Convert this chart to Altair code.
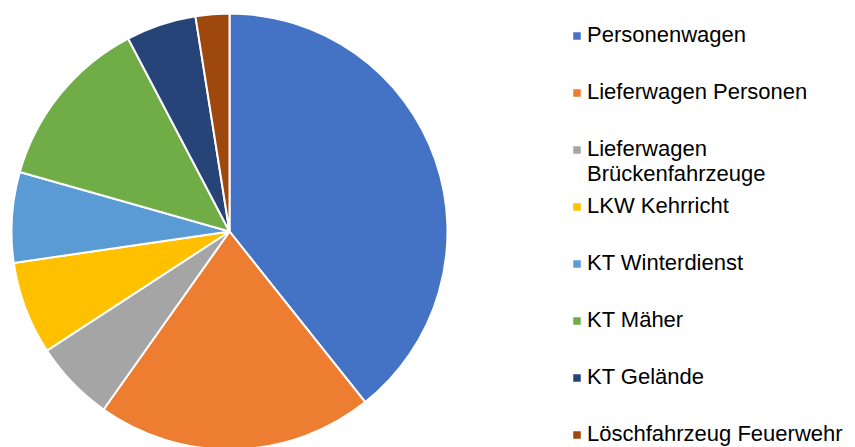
import altair as alt
import pandas as pd

categories = [
    "Personenwagen",
    "Lieferwagen Personen",
    "Lieferwagen Brückenfahrzeuge",
    "LKW Kehrricht",
    "KT Winterdienst",
    "KT Mäher",
    "KT Gelände",
    "Löschfahrzeug Feuerwehr",
]
shares = [39.3, 20.5, 6.0, 6.9, 6.7, 12.9, 5.2, 2.5]
legend_text = [
    "Personenwagen",
    "Lieferwagen Personen",
    "Lieferwagen\nBrückenfahrzeuge",
    "LKW Kehrricht",
    "KT Winterdienst",
    "KT Mäher",
    "KT Gelände",
    "Löschfahrzeug Feuerwehr",
]
colors = ["#4472C4", "#ED7D31", "#A5A5A5", "#FFC000", "#5B9BD5", "#70AD47", "#264478", "#9E480E"]

df = pd.DataFrame({
    "cat": categories,
    "share": shares,
    "label": legend_text,
    "idx": list(range(len(categories))),
})

color = alt.Color("cat:N", scale=alt.Scale(domain=categories, range=colors), legend=None)
base = alt.Chart(df)

pie = base.mark_arc(outerRadius=218, stroke="white", strokeWidth=2).encode(
    theta=alt.Theta("share:Q", stack=True),
    order=alt.Order("idx:Q"),
    color=color,
    x=alt.value(221.5),
    y=alt.value(223.5),
)

ypos = alt.Y("cat:N", sort=categories, scale=alt.Scale(range=[28, 427], padding=0), axis=None)

squares = base.mark_square(size=56, opacity=1).encode(
    y=ypos,
    x=alt.value(569),
    color=color,
)

texts = base.mark_text(
    align="left", baseline="top", dy=-11, lineBreak="\n", lineHeight=25,
    font="Liberation Sans", fontSize=22, color="#000000",
).encode(
    y=ypos,
    x=alt.value(579),
    text=alt.Text("label:N"),
)

chart = alt.layer(pie, squares, texts).properties(
    width=839, height=439,
    padding=0,
    autosize=alt.AutoSizeParams(type="none"),
).configure_view(stroke=None)

chart.save("out.html", embed_options={"renderer": "svg", "actions": False})
